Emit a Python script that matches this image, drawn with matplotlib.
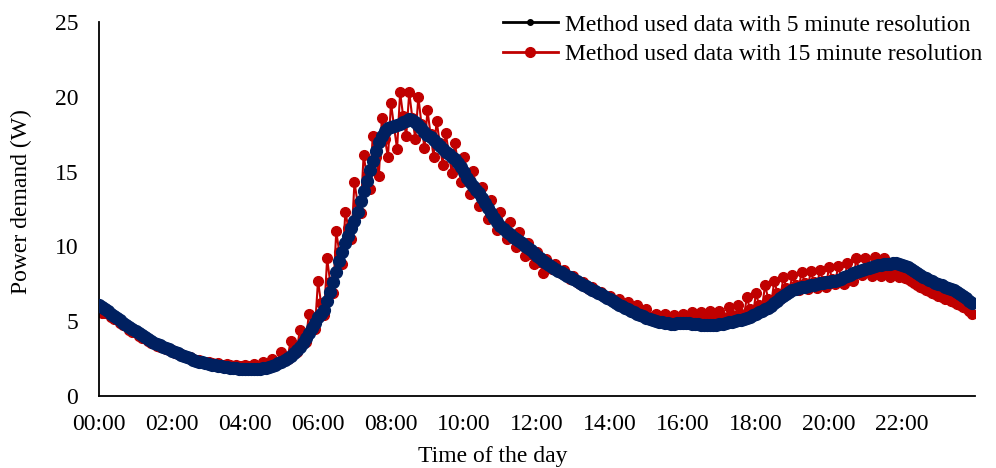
import matplotlib.pyplot as plt
import numpy as np
from matplotlib.lines import Line2D

plt.rcParams['font.family'] = ['Liberation Serif', 'DejaVu Serif']

# x tick labels, one every 2 hours (every 24 five-minute steps)
tick_labels = ['00:00', '02:00', '04:00', '06:00', '08:00', '10:00',
               '12:00', '14:00', '16:00', '18:00', '20:00', '22:00']

series_labels = ['Method used data with 5 minute resolution',
                 'Method used data with 15 minute resolution']

# power demand (W), one value per 5 minutes, one row per hour
p5 = [
    6.10, 5.95, 5.80, 5.65, 5.50, 5.35, 5.20, 5.05, 4.90, 4.75, 4.60, 4.46,
    4.33, 4.19, 4.05, 3.92, 3.80, 3.68, 3.57, 3.47, 3.38, 3.30, 3.21, 3.12,
    3.03, 2.94, 2.85, 2.76, 2.67, 2.59, 2.51, 2.43, 2.36, 2.30, 2.24, 2.19,
    2.14, 2.09, 2.05, 2.01, 1.97, 1.94, 1.91, 1.88, 1.86, 1.84, 1.82, 1.81,
    1.80, 1.79, 1.78, 1.78, 1.79, 1.81, 1.84, 1.88, 1.93, 2.00, 2.08, 2.17,
    2.28, 2.40, 2.54, 2.70, 2.88, 3.08, 3.30, 3.57, 3.86, 4.18, 4.52, 4.88,
    5.25, 5.50, 5.75, 6.35, 6.95, 7.60, 8.30, 9.00, 9.65, 10.2, 10.7, 11.2,
    11.7, 12.3, 13.0, 13.7, 14.4, 15.1, 15.7, 16.4, 17.0, 17.4, 17.7, 17.9,
    18.0, 18.05, 18.1, 18.2, 18.3, 18.4, 18.5, 18.45, 18.3, 18.1, 17.9, 17.65,
    17.45, 17.3, 17.1, 16.9, 16.7, 16.5, 16.3, 16.15, 16.0, 15.85, 15.6, 15.3,
    14.95, 14.6, 14.3, 14.05, 13.8, 13.55, 13.25, 12.9, 12.55, 12.25, 11.9, 11.6,
    11.35, 11.15, 10.95, 10.8, 10.65, 10.5, 10.35, 10.2, 10.05, 9.90, 9.75, 9.55,
    9.35, 9.20, 9.03, 8.88, 8.75, 8.62, 8.50, 8.38, 8.26, 8.14, 8.03, 7.92,
    7.80, 7.68, 7.56, 7.44, 7.33, 7.22, 7.11, 7.00, 6.90, 6.79, 6.68, 6.57,
    6.45, 6.33, 6.22, 6.11, 6.00, 5.90, 5.80, 5.70, 5.60, 5.50, 5.40, 5.32,
    5.24, 5.16, 5.09, 5.02, 4.96, 4.91, 4.87, 4.85, 4.84, 4.84, 4.85, 4.86,
    4.87, 4.86, 4.85, 4.83, 4.81, 4.79, 4.77, 4.75, 4.73, 4.72, 4.73, 4.76,
    4.80, 4.84, 4.88, 4.92, 4.96, 5.00, 5.05, 5.10, 5.15, 5.22, 5.30, 5.40,
    5.50, 5.60, 5.70, 5.80, 5.90, 6.02, 6.20, 6.38, 6.55, 6.70, 6.83, 6.95,
    7.05, 7.13, 7.20, 7.26, 7.31, 7.36, 7.40, 7.44, 7.48, 7.52, 7.56, 7.60,
    7.63, 7.66, 7.70, 7.76, 7.84, 7.93, 8.02, 8.11, 8.20, 8.29, 8.37, 8.44,
    8.51, 8.58, 8.64, 8.69, 8.74, 8.78, 8.81, 8.83, 8.85, 8.86, 8.86, 8.84,
    8.78, 8.70, 8.60, 8.48, 8.35, 8.22, 8.10, 7.98, 7.86, 7.76, 7.66, 7.57,
    7.48, 7.39, 7.30, 7.21, 7.13, 7.05, 6.94, 6.80, 6.66, 6.52, 6.37, 6.20,
]

p15 = [
    5.90, 5.55, 5.55, 5.60, 5.25, 5.15, 5.15, 4.85, 4.72, 4.72, 4.42, 4.30,
    4.30, 4.02, 3.90, 3.90, 3.65, 3.55, 3.56, 3.35, 3.28, 3.30, 3.12, 3.05,
    3.05, 2.88, 2.82, 2.80, 2.66, 2.60, 2.58, 2.46, 2.42, 2.40, 2.30, 2.27,
    2.28, 2.18, 2.16, 2.20, 2.10, 2.08, 2.14, 2.04, 2.02, 2.10, 2.00, 1.98,
    2.08, 1.98, 1.96, 2.12, 2.00, 1.98, 2.25, 2.08, 2.05, 2.50, 2.25, 2.20,
    2.95, 2.55, 2.50, 3.70, 3.10, 2.95, 4.40, 3.75, 3.60, 5.50, 4.70, 4.50,
    7.70, 6.20, 5.40, 9.20, 7.60, 6.90, 11.0, 9.60, 8.80, 12.3, 11.2, 10.5,
    14.3, 12.9, 12.2, 16.1, 14.8, 13.85, 17.4, 16.0, 14.7, 18.6, 17.2, 15.95,
    19.6, 18.0, 16.5, 20.3, 18.7, 17.35, 20.3, 18.6, 17.2, 20.0, 18.2, 16.55,
    19.1, 17.5, 16.0, 18.4, 16.9, 15.45, 17.6, 16.2, 14.9, 16.9, 15.6, 14.3,
    16.0, 14.7, 13.5, 15.07, 13.8, 12.7, 13.95, 12.9, 11.85, 13.07, 12.0, 11.07,
    12.3, 11.3, 10.5, 11.6, 10.7, 9.95, 10.95, 10.1, 9.33, 10.2, 9.50, 8.85,
    9.60, 8.95, 8.20, 9.18, 8.70, 8.50, 8.80, 8.35, 8.20, 8.40, 8.00, 7.85,
    8.00, 7.65, 7.50, 7.60, 7.30, 7.15, 7.25, 6.97, 6.85, 6.95, 6.65, 6.52,
    6.70, 6.35, 6.20, 6.50, 6.05, 5.90, 6.30, 5.80, 5.62, 6.07, 5.55, 5.35,
    5.80, 5.30, 5.12, 5.50, 5.10, 4.98, 5.45, 5.05, 4.95, 5.40, 5.05, 4.98,
    5.50, 5.10, 5.00, 5.60, 5.15, 5.02, 5.60, 5.15, 5.05, 5.65, 5.20, 5.07,
    5.70, 5.25, 5.12, 5.95, 5.40, 5.20, 6.10, 5.50, 5.30, 6.60, 5.80, 5.45,
    6.85, 6.10, 5.95, 7.40, 6.50, 6.10, 7.70, 6.90, 6.50, 7.95, 7.20, 7.07,
    8.10, 7.40, 7.10, 8.30, 7.55, 7.15, 8.35, 7.60, 7.20, 8.45, 7.70, 7.30,
    8.60, 7.85, 7.45, 8.70, 7.90, 7.50, 8.90, 8.10, 7.70, 9.20, 8.30, 8.10,
    9.25, 8.40, 8.00, 9.30, 8.40, 8.00, 9.20, 8.35, 7.95, 8.80, 8.20, 7.95,
    8.00, 7.90, 7.80, 7.70, 7.55, 7.40, 7.30, 7.20, 7.10, 7.00, 6.90, 6.80,
    6.70, 6.60, 6.50, 6.45, 6.35, 6.25, 6.15, 6.05, 5.95, 5.85, 5.70, 5.50,
]

x = np.arange(len(p5))

fig = plt.figure(figsize=(9.96, 4.68), dpi=100)
ax = fig.add_axes([0.0994, 0.154, 0.8795, 0.799])

ax.plot(x, p15, color='#C00000', lw=1.5, marker='o', ms=7, zorder=2)
ax.plot(x, p5, color='black', lw=1.2, marker='o', ms=8.5,
        mfc='#002060', mec='#002060', zorder=3)

ax.set_xlim(0, 288)
ax.set_ylim(0, 25)
ax.set_yticks(range(0, 26, 5))
ax.set_xticks(np.arange(0, 288, 24))
ax.set_xticklabels(tick_labels)
ax.tick_params(length=0, labelsize=17)
ax.tick_params(axis='x', pad=13)
ax.tick_params(axis='y', pad=15)
ax.spines['top'].set_visible(False)
ax.spines['right'].set_visible(False)
ax.spines['left'].set_linewidth(1.3)
ax.spines['bottom'].set_linewidth(1.3)
ax.set_xlabel('Time of the day', fontsize=17)
ax.set_ylabel('Power demand (W)', fontsize=17)
ax.xaxis.set_label_coords(0.45, -0.134)
ax.yaxis.set_label_coords(-0.077, 0.52)

handles = [Line2D([], [], color='black', lw=2, marker='o', ms=4),
           Line2D([], [], color='#C00000', lw=2, marker='o', ms=7)]
fig.legend(handles, series_labels, loc='upper right', bbox_to_anchor=(1.0, 1.0),
           frameon=False, fontsize=17, handlelength=2.3, labelspacing=0.35,
           handletextpad=0.3, borderaxespad=0.2)

fig.savefig('out.png', dpi=100)
